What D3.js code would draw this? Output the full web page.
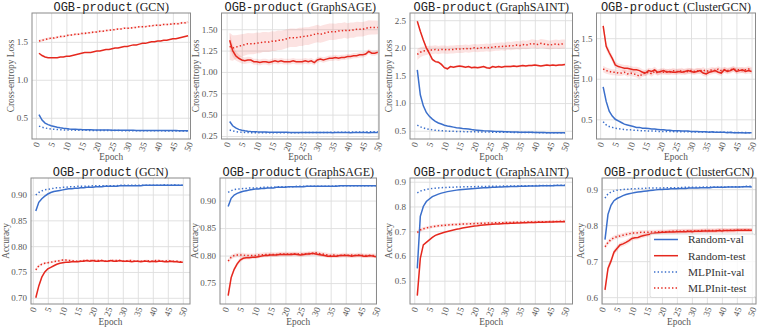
<!DOCTYPE html>
<html>
<head>
<meta charset="utf-8">
<script src="https://cdn.jsdelivr.net/npm/d3@7.9.0/dist/d3.min.js"></script>
<style>
  body { margin: 0; background: #fff; }
</style>
</head>
<body>
<svg id="chart" width="761" height="329"></svg>
<script>
// epochs on the x axis
const epochs = [
  1, 2, 3, 4, 5, 6, 7, 8, 9, 10,
  11, 12, 13, 14, 15, 16, 17, 18, 19, 20,
  21, 22, 23, 24, 25, 26, 27, 28, 29, 30,
  31, 32, 33, 34, 35, 36, 37, 38, 39, 40,
  41, 42, 43, 44, 45, 46, 47, 48, 49, 50];
const xTicks = [0, 5, 10, 15, 20, 25, 30, 35, 40, 45, 50];

const models = ['GCN', 'GraphSAGE', 'GraphSAINT', 'ClusterGCN'];
const seriesNames = ['Random-val', 'Random-test', 'MLPInit-val', 'MLPInit-test'];

// ---- loss curves (top row) ----
const gcnLossRandVal = [
  0.54, 0.47, 0.43, 0.41, 0.395, 0.385, 0.375, 0.368, 0.362, 0.357,
  0.353, 0.350, 0.348, 0.346, 0.344, 0.343, 0.342, 0.341, 0.340, 0.339,
  0.338, 0.338, 0.337, 0.337, 0.336, 0.336, 0.335, 0.335, 0.335, 0.334,
  0.334, 0.334, 0.333, 0.333, 0.333, 0.333, 0.332, 0.332, 0.332, 0.332,
  0.332, 0.331, 0.331, 0.331, 0.331, 0.331, 0.330, 0.330, 0.330, 0.330];
const gcnLossRandTest = [
  1.35, 1.32, 1.30, 1.29, 1.29, 1.29, 1.29, 1.30, 1.30, 1.31,
  1.31, 1.32, 1.33, 1.34, 1.35, 1.36, 1.36, 1.36, 1.37, 1.38,
  1.38, 1.39, 1.40, 1.40, 1.41, 1.42, 1.42, 1.43, 1.44, 1.44,
  1.45, 1.46, 1.46, 1.47, 1.48, 1.48, 1.49, 1.50, 1.50, 1.51,
  1.51, 1.52, 1.52, 1.53, 1.54, 1.54, 1.55, 1.56, 1.57, 1.58];
const gcnLossMlpVal = [
  0.390, 0.375, 0.365, 0.358, 0.352, 0.348, 0.345, 0.342, 0.340, 0.339,
  0.338, 0.337, 0.336, 0.335, 0.335, 0.334, 0.334, 0.333, 0.333, 0.333,
  0.332, 0.332, 0.332, 0.331, 0.331, 0.331, 0.331, 0.330, 0.330, 0.330,
  0.330, 0.329, 0.329, 0.329, 0.329, 0.329, 0.328, 0.328, 0.328, 0.328,
  0.328, 0.327, 0.327, 0.327, 0.327, 0.327, 0.326, 0.326, 0.326, 0.326];
const gcnLossMlpTest = [
  1.51, 1.52, 1.53, 1.54, 1.55, 1.55, 1.56, 1.57, 1.57, 1.58,
  1.59, 1.59, 1.60, 1.60, 1.61, 1.61, 1.62, 1.62, 1.63, 1.63,
  1.64, 1.64, 1.65, 1.65, 1.66, 1.66, 1.67, 1.67, 1.68, 1.68,
  1.68, 1.69, 1.69, 1.70, 1.70, 1.70, 1.71, 1.71, 1.72, 1.72,
  1.72, 1.73, 1.73, 1.73, 1.74, 1.74, 1.74, 1.75, 1.75, 1.76];
const gcnLossMlpTestStd = [
  0.020, 0.018, 0.017, 0.016, 0.016, 0.015, 0.015, 0.015, 0.014, 0.014,
  0.014, 0.014, 0.013, 0.013, 0.013, 0.013, 0.013, 0.013, 0.012, 0.012,
  0.012, 0.012, 0.012, 0.012, 0.012, 0.012, 0.012, 0.012, 0.012, 0.012,
  0.012, 0.012, 0.012, 0.012, 0.012, 0.012, 0.013, 0.013, 0.013, 0.013,
  0.013, 0.013, 0.013, 0.013, 0.014, 0.014, 0.014, 0.014, 0.014, 0.014];

const sageLossRandVal = [
  0.420, 0.370, 0.345, 0.328, 0.318, 0.311, 0.306, 0.303, 0.301, 0.299,
  0.298, 0.297, 0.296, 0.295, 0.295, 0.294, 0.294, 0.293, 0.293, 0.293,
  0.292, 0.292, 0.292, 0.292, 0.291, 0.291, 0.291, 0.291, 0.291, 0.290,
  0.290, 0.291, 0.290, 0.290, 0.289, 0.290, 0.290, 0.291, 0.290, 0.290,
  0.289, 0.290, 0.290, 0.290, 0.291, 0.290, 0.289, 0.290, 0.290, 0.290];
const sageLossRandTest = [
  1.37, 1.25, 1.19, 1.16, 1.14, 1.13, 1.14, 1.14, 1.12, 1.12,
  1.11, 1.12, 1.12, 1.11, 1.12, 1.13, 1.12, 1.13, 1.12, 1.12,
  1.12, 1.13, 1.12, 1.12, 1.12, 1.13, 1.12, 1.13, 1.11, 1.14,
  1.15, 1.14, 1.15, 1.16, 1.16, 1.17, 1.16, 1.17, 1.17, 1.18,
  1.18, 1.19, 1.19, 1.20, 1.20, 1.21, 1.24, 1.22, 1.22, 1.23];
const sageLossRandTestStd = [
  0.090, 0.070, 0.055, 0.045, 0.040, 0.038, 0.037, 0.036, 0.035, 0.035,
  0.035, 0.034, 0.034, 0.034, 0.034, 0.034, 0.033, 0.033, 0.033, 0.033,
  0.033, 0.033, 0.033, 0.033, 0.033, 0.033, 0.033, 0.033, 0.032, 0.032,
  0.032, 0.032, 0.032, 0.032, 0.032, 0.032, 0.032, 0.031, 0.031, 0.031,
  0.031, 0.031, 0.031, 0.031, 0.031, 0.030, 0.030, 0.030, 0.030, 0.030];
const sageLossMlpVal = [
  0.320, 0.310, 0.302, 0.297, 0.294, 0.292, 0.290, 0.289, 0.288, 0.288,
  0.287, 0.287, 0.287, 0.287, 0.287, 0.287, 0.287, 0.288, 0.288, 0.288,
  0.288, 0.289, 0.289, 0.289, 0.290, 0.290, 0.290, 0.291, 0.291, 0.291,
  0.292, 0.292, 0.292, 0.293, 0.293, 0.294, 0.294, 0.295, 0.295, 0.295,
  0.296, 0.296, 0.297, 0.297, 0.298, 0.298, 0.299, 0.299, 0.300, 0.300];
const sageLossMlpTest = [
  1.30, 1.28, 1.29, 1.30, 1.31, 1.32, 1.33, 1.33, 1.33, 1.34,
  1.34, 1.35, 1.35, 1.35, 1.36, 1.36, 1.37, 1.37, 1.38, 1.39,
  1.40, 1.40, 1.40, 1.41, 1.41, 1.42, 1.42, 1.43, 1.44, 1.45,
  1.44, 1.45, 1.46, 1.47, 1.47, 1.47, 1.48, 1.48, 1.49, 1.48,
  1.49, 1.49, 1.50, 1.50, 1.50, 1.51, 1.52, 1.52, 1.52, 1.52];
const sageLossMlpTestStd = [
  0.160, 0.150, 0.141, 0.134, 0.131, 0.128, 0.125, 0.124, 0.122, 0.121,
  0.120, 0.118, 0.118, 0.116, 0.116, 0.114, 0.114, 0.112, 0.111, 0.111,
  0.109, 0.109, 0.107, 0.106, 0.106, 0.104, 0.104, 0.102, 0.101, 0.101,
  0.099, 0.099, 0.097, 0.096, 0.096, 0.094, 0.094, 0.092, 0.091, 0.091,
  0.089, 0.089, 0.087, 0.086, 0.086, 0.084, 0.084, 0.082, 0.081, 0.080];

const saintLossRandVal = [
  1.60, 1.15, 0.95, 0.83, 0.76, 0.71, 0.67, 0.64, 0.62, 0.60,
  0.585, 0.575, 0.565, 0.555, 0.55, 0.54, 0.535, 0.53, 0.52, 0.515,
  0.510, 0.505, 0.500, 0.497, 0.494, 0.491, 0.488, 0.486, 0.484, 0.482,
  0.480, 0.478, 0.477, 0.476, 0.474, 0.473, 0.472, 0.471, 0.470, 0.469,
  0.468, 0.467, 0.466, 0.465, 0.465, 0.464, 0.463, 0.463, 0.462, 0.462];
const saintLossRandTest = [
  2.48, 2.30, 2.14, 2.00, 1.90, 1.79, 1.75, 1.74, 1.70, 1.64,
  1.62, 1.66, 1.65, 1.66, 1.67, 1.66, 1.65, 1.66, 1.64, 1.65,
  1.64, 1.65, 1.66, 1.64, 1.63, 1.66, 1.65, 1.66, 1.65, 1.66,
  1.66, 1.66, 1.67, 1.66, 1.67, 1.68, 1.67, 1.68, 1.68, 1.69,
  1.68, 1.67, 1.68, 1.69, 1.68, 1.69, 1.68, 1.69, 1.69, 1.70];
const saintLossRandTestStd = [
  0.030, 0.028, 0.026, 0.025, 0.024, 0.023, 0.022, 0.022, 0.021, 0.021,
  0.021, 0.020, 0.020, 0.020, 0.020, 0.020, 0.020, 0.020, 0.020, 0.020,
  0.020, 0.020, 0.020, 0.020, 0.020, 0.020, 0.020, 0.020, 0.020, 0.020,
  0.020, 0.020, 0.020, 0.020, 0.020, 0.020, 0.020, 0.020, 0.020, 0.020,
  0.020, 0.020, 0.020, 0.020, 0.020, 0.020, 0.020, 0.020, 0.020, 0.020];
const saintLossMlpVal = [
  0.600, 0.570, 0.550, 0.535, 0.525, 0.515, 0.508, 0.503, 0.499, 0.496,
  0.493, 0.491, 0.489, 0.487, 0.485, 0.484, 0.483, 0.482, 0.481, 0.480,
  0.479, 0.478, 0.477, 0.476, 0.475, 0.474, 0.473, 0.473, 0.472, 0.471,
  0.471, 0.470, 0.469, 0.469, 0.468, 0.468, 0.467, 0.467, 0.466, 0.466,
  0.465, 0.465, 0.464, 0.464, 0.463, 0.463, 0.462, 0.462, 0.461, 0.461];
const saintLossMlpTest = [
  1.88, 1.92, 1.94, 1.95, 1.96, 1.96, 1.97, 1.96, 1.97, 1.97,
  1.96, 1.97, 1.97, 1.98, 1.98, 1.98, 1.99, 1.98, 1.99, 2.00,
  1.99, 2.00, 2.00, 2.01, 2.00, 2.01, 2.02, 2.02, 2.03, 2.02,
  2.04, 2.03, 2.04, 2.05, 2.04, 2.06, 2.05, 2.06, 2.08, 2.07,
  2.06, 2.08, 2.07, 2.06, 2.05, 2.06, 2.07, 2.06, 2.07, 2.07];
const saintLossMlpTestStd = [
  0.100, 0.090, 0.085, 0.080, 0.078, 0.076, 0.075, 0.075, 0.074, 0.074,
  0.073, 0.073, 0.073, 0.072, 0.072, 0.072, 0.072, 0.071, 0.071, 0.071,
  0.071, 0.071, 0.070, 0.070, 0.070, 0.071, 0.071, 0.072, 0.072, 0.073,
  0.073, 0.074, 0.074, 0.075, 0.075, 0.076, 0.076, 0.077, 0.077, 0.078,
  0.078, 0.079, 0.079, 0.080, 0.080, 0.080, 0.081, 0.081, 0.081, 0.082];

const clusterLossRandVal = [
  0.90, 0.72, 0.60, 0.54, 0.50, 0.48, 0.46, 0.44, 0.43, 0.42,
  0.41, 0.40, 0.40, 0.39, 0.39, 0.385, 0.38, 0.38, 0.375, 0.37,
  0.37, 0.365, 0.365, 0.36, 0.36, 0.36, 0.355, 0.355, 0.355, 0.35,
  0.35, 0.35, 0.345, 0.345, 0.345, 0.34, 0.345, 0.34, 0.34, 0.34,
  0.34, 0.335, 0.34, 0.335, 0.335, 0.335, 0.335, 0.33, 0.335, 0.335];
const clusterLossRandTest = [
  1.65, 1.40, 1.32, 1.25, 1.17, 1.15, 1.14, 1.13, 1.13, 1.12,
  1.11, 1.11, 1.10, 1.08, 1.07, 1.10, 1.09, 1.11, 1.08, 1.09,
  1.10, 1.08, 1.09, 1.08, 1.08, 1.09, 1.08, 1.09, 1.10, 1.09,
  1.08, 1.09, 1.10, 1.07, 1.06, 1.08, 1.09, 1.10, 1.08, 1.07,
  1.11, 1.09, 1.10, 1.12, 1.09, 1.10, 1.11, 1.09, 1.10, 1.09];
const clusterLossRandTestStd = [
  0.050, 0.045, 0.042, 0.040, 0.040, 0.039, 0.039, 0.038, 0.038, 0.038,
  0.037, 0.037, 0.037, 0.037, 0.036, 0.036, 0.036, 0.036, 0.036, 0.036,
  0.035, 0.035, 0.035, 0.035, 0.035, 0.035, 0.035, 0.035, 0.035, 0.035,
  0.035, 0.035, 0.035, 0.035, 0.035, 0.035, 0.035, 0.035, 0.035, 0.035,
  0.035, 0.035, 0.035, 0.035, 0.035, 0.035, 0.035, 0.035, 0.035, 0.035];
const clusterLossMlpVal = [
  0.47, 0.43, 0.41, 0.40, 0.39, 0.385, 0.38, 0.375, 0.37, 0.37,
  0.365, 0.365, 0.36, 0.36, 0.36, 0.355, 0.355, 0.355, 0.35, 0.35,
  0.350, 0.350, 0.348, 0.348, 0.347, 0.347, 0.346, 0.346, 0.345, 0.345,
  0.344, 0.344, 0.343, 0.343, 0.342, 0.342, 0.341, 0.341, 0.340, 0.340,
  0.339, 0.339, 0.338, 0.338, 0.337, 0.337, 0.336, 0.336, 0.335, 0.335];
const clusterLossMlpTest = [
  1.12, 1.10, 1.09, 1.08, 1.08, 1.07, 1.07, 1.08, 1.06, 1.07,
  1.06, 1.05, 1.03, 1.06, 1.07, 1.08, 1.06, 1.09, 1.07, 1.09,
  1.08, 1.09, 1.08, 1.10, 1.09, 1.09, 1.10, 1.08, 1.09, 1.10,
  1.09, 1.10, 1.09, 1.11, 1.09, 1.10, 1.11, 1.10, 1.12, 1.10,
  1.11, 1.10, 1.11, 1.12, 1.11, 1.11, 1.10, 1.11, 1.12, 1.11];
const clusterLossMlpTestStd = [
  0.040, 0.038, 0.037, 0.036, 0.036, 0.035, 0.035, 0.035, 0.035, 0.035,
  0.035, 0.036, 0.038, 0.036, 0.035, 0.035, 0.035, 0.035, 0.034, 0.034,
  0.034, 0.034, 0.034, 0.034, 0.034, 0.034, 0.034, 0.034, 0.034, 0.034,
  0.034, 0.034, 0.034, 0.034, 0.034, 0.034, 0.034, 0.034, 0.034, 0.034,
  0.034, 0.034, 0.034, 0.034, 0.034, 0.034, 0.034, 0.034, 0.034, 0.034];

// ---- accuracy curves (bottom row) ----
const gcnAccRandVal = [
  0.868, 0.885, 0.892, 0.897, 0.901, 0.904, 0.906, 0.907, 0.908, 0.909,
  0.910, 0.911, 0.911, 0.912, 0.912, 0.913, 0.913, 0.914, 0.914, 0.914,
  0.915, 0.915, 0.915, 0.916, 0.916, 0.916, 0.916, 0.916, 0.917, 0.917,
  0.917, 0.917, 0.917, 0.917, 0.917, 0.917, 0.918, 0.918, 0.918, 0.918,
  0.918, 0.918, 0.918, 0.918, 0.918, 0.918, 0.918, 0.918, 0.918, 0.918];
const gcnAccRandTest = [
  0.700, 0.723, 0.740, 0.750, 0.756, 0.759, 0.762, 0.765, 0.767, 0.768,
  0.769, 0.769, 0.770, 0.770, 0.770, 0.771, 0.771, 0.772, 0.771, 0.772,
  0.771, 0.771, 0.772, 0.771, 0.771, 0.772, 0.771, 0.771, 0.772, 0.771,
  0.771, 0.771, 0.770, 0.771, 0.771, 0.770, 0.771, 0.771, 0.770, 0.771,
  0.770, 0.771, 0.771, 0.770, 0.770, 0.771, 0.770, 0.770, 0.769, 0.769];
const gcnAccMlpVal = [
  0.899, 0.904, 0.907, 0.909, 0.910, 0.911, 0.912, 0.913, 0.913, 0.914,
  0.914, 0.915, 0.915, 0.915, 0.916, 0.916, 0.916, 0.916, 0.916, 0.917,
  0.917, 0.917, 0.917, 0.917, 0.917, 0.917, 0.917, 0.917, 0.918, 0.918,
  0.918, 0.918, 0.918, 0.918, 0.918, 0.918, 0.918, 0.918, 0.918, 0.918,
  0.918, 0.918, 0.918, 0.919, 0.918, 0.918, 0.919, 0.918, 0.918, 0.918];
const gcnAccMlpTest = [
  0.754, 0.762, 0.765, 0.767, 0.768, 0.769, 0.770, 0.771, 0.772, 0.773,
  0.773, 0.772, 0.772, 0.771, 0.771, 0.771, 0.772, 0.772, 0.772, 0.772,
  0.772, 0.772, 0.772, 0.771, 0.771, 0.772, 0.772, 0.772, 0.772, 0.771,
  0.771, 0.772, 0.772, 0.771, 0.771, 0.771, 0.771, 0.772, 0.771, 0.771,
  0.772, 0.772, 0.771, 0.771, 0.772, 0.771, 0.771, 0.771, 0.770, 0.770];
const gcnAccMlpTestStd = [
  0.003, 0.003, 0.002, 0.002, 0.002, 0.002, 0.002, 0.002, 0.002, 0.002,
  0.002, 0.002, 0.002, 0.002, 0.002, 0.002, 0.002, 0.002, 0.002, 0.002,
  0.002, 0.002, 0.002, 0.002, 0.002, 0.002, 0.002, 0.002, 0.002, 0.002,
  0.002, 0.002, 0.002, 0.002, 0.002, 0.002, 0.002, 0.002, 0.002, 0.002,
  0.002, 0.002, 0.002, 0.002, 0.002, 0.002, 0.002, 0.002, 0.002, 0.002];

const sageAccRandVal = [
  0.889, 0.904, 0.910, 0.913, 0.915, 0.917, 0.918, 0.919, 0.920, 0.921,
  0.921, 0.922, 0.922, 0.923, 0.923, 0.923, 0.924, 0.924, 0.924, 0.924,
  0.925, 0.925, 0.925, 0.925, 0.925, 0.925, 0.926, 0.926, 0.926, 0.926,
  0.926, 0.926, 0.926, 0.926, 0.926, 0.926, 0.926, 0.927, 0.927, 0.927,
  0.927, 0.927, 0.927, 0.927, 0.927, 0.927, 0.927, 0.927, 0.927, 0.927];
const sageAccRandTest = [
  0.727, 0.760, 0.775, 0.785, 0.792, 0.795, 0.796, 0.796, 0.797, 0.797,
  0.798, 0.799, 0.800, 0.800, 0.801, 0.801, 0.801, 0.802, 0.802, 0.802,
  0.802, 0.802, 0.803, 0.802, 0.801, 0.802, 0.803, 0.803, 0.804, 0.803,
  0.802, 0.801, 0.800, 0.799, 0.799, 0.799, 0.799, 0.800, 0.800, 0.800,
  0.800, 0.799, 0.800, 0.800, 0.800, 0.799, 0.799, 0.800, 0.799, 0.798];
const sageAccRandTestStd = [
  0.006, 0.005, 0.004, 0.004, 0.004, 0.003, 0.003, 0.003, 0.003, 0.003,
  0.003, 0.003, 0.003, 0.003, 0.003, 0.003, 0.003, 0.003, 0.003, 0.003,
  0.003, 0.003, 0.003, 0.003, 0.003, 0.003, 0.003, 0.003, 0.003, 0.003,
  0.003, 0.003, 0.003, 0.003, 0.003, 0.003, 0.003, 0.003, 0.003, 0.003,
  0.003, 0.003, 0.003, 0.003, 0.003, 0.003, 0.003, 0.003, 0.003, 0.003];
const sageAccMlpVal = [
  0.915, 0.918, 0.920, 0.921, 0.921, 0.922, 0.922, 0.923, 0.923, 0.923,
  0.923, 0.924, 0.924, 0.924, 0.924, 0.924, 0.925, 0.925, 0.925, 0.925,
  0.925, 0.925, 0.925, 0.926, 0.926, 0.926, 0.926, 0.926, 0.926, 0.926,
  0.926, 0.926, 0.926, 0.926, 0.926, 0.926, 0.927, 0.927, 0.927, 0.927,
  0.927, 0.927, 0.927, 0.927, 0.927, 0.927, 0.927, 0.927, 0.927, 0.927];
const sageAccMlpTest = [
  0.790, 0.797, 0.800, 0.801, 0.801, 0.801, 0.800, 0.800, 0.800, 0.800,
  0.801, 0.801, 0.802, 0.802, 0.802, 0.802, 0.802, 0.803, 0.803, 0.803,
  0.803, 0.803, 0.803, 0.803, 0.803, 0.803, 0.803, 0.804, 0.804, 0.805,
  0.804, 0.803, 0.802, 0.801, 0.800, 0.801, 0.800, 0.800, 0.801, 0.801,
  0.800, 0.801, 0.800, 0.801, 0.801, 0.800, 0.800, 0.800, 0.800, 0.800];
const sageAccMlpTestStd = [
  0.004, 0.004, 0.004, 0.004, 0.004, 0.004, 0.004, 0.004, 0.004, 0.004,
  0.004, 0.004, 0.004, 0.004, 0.004, 0.004, 0.004, 0.004, 0.004, 0.004,
  0.004, 0.004, 0.004, 0.004, 0.004, 0.004, 0.004, 0.004, 0.004, 0.004,
  0.004, 0.004, 0.004, 0.004, 0.004, 0.004, 0.004, 0.004, 0.004, 0.004,
  0.004, 0.004, 0.004, 0.004, 0.004, 0.004, 0.004, 0.004, 0.004, 0.004];

const saintAccRandVal = [
  0.550, 0.760, 0.800, 0.820, 0.830, 0.840, 0.845, 0.850, 0.854, 0.857,
  0.860, 0.862, 0.864, 0.866, 0.868, 0.869, 0.870, 0.871, 0.872, 0.873,
  0.874, 0.875, 0.876, 0.876, 0.877, 0.878, 0.878, 0.879, 0.879, 0.880,
  0.880, 0.881, 0.881, 0.881, 0.882, 0.882, 0.882, 0.883, 0.883, 0.883,
  0.883, 0.884, 0.884, 0.884, 0.884, 0.884, 0.885, 0.885, 0.885, 0.885];
const saintAccRandTest = [
  0.440, 0.590, 0.645, 0.655, 0.665, 0.675, 0.683, 0.688, 0.692, 0.696,
  0.699, 0.702, 0.705, 0.708, 0.710, 0.713, 0.715, 0.717, 0.719, 0.721,
  0.722, 0.724, 0.725, 0.726, 0.727, 0.728, 0.729, 0.729, 0.730, 0.731,
  0.731, 0.732, 0.732, 0.733, 0.733, 0.734, 0.734, 0.735, 0.735, 0.735,
  0.736, 0.736, 0.736, 0.737, 0.737, 0.737, 0.738, 0.738, 0.738, 0.738];
const saintAccMlpVal = [
  0.855, 0.862, 0.866, 0.869, 0.871, 0.873, 0.874, 0.875, 0.876, 0.877,
  0.877, 0.878, 0.878, 0.879, 0.879, 0.879, 0.880, 0.880, 0.880, 0.880,
  0.881, 0.881, 0.881, 0.881, 0.882, 0.882, 0.882, 0.882, 0.882, 0.883,
  0.883, 0.883, 0.883, 0.883, 0.884, 0.884, 0.884, 0.884, 0.884, 0.884,
  0.885, 0.885, 0.885, 0.885, 0.885, 0.885, 0.886, 0.886, 0.886, 0.886];
const saintAccMlpTest = [
  0.695, 0.705, 0.710, 0.713, 0.716, 0.718, 0.720, 0.722, 0.723, 0.724,
  0.725, 0.726, 0.727, 0.727, 0.728, 0.729, 0.729, 0.730, 0.730, 0.731,
  0.731, 0.732, 0.732, 0.733, 0.733, 0.733, 0.734, 0.734, 0.734, 0.735,
  0.735, 0.735, 0.736, 0.736, 0.736, 0.736, 0.737, 0.737, 0.737, 0.737,
  0.738, 0.738, 0.738, 0.738, 0.739, 0.739, 0.739, 0.740, 0.740, 0.740];
const saintAccMlpTestStd = [
  0.008, 0.007, 0.007, 0.006, 0.006, 0.006, 0.006, 0.006, 0.006, 0.006,
  0.006, 0.006, 0.006, 0.006, 0.006, 0.006, 0.006, 0.006, 0.006, 0.006,
  0.006, 0.006, 0.006, 0.006, 0.006, 0.006, 0.006, 0.006, 0.006, 0.006,
  0.006, 0.006, 0.006, 0.006, 0.006, 0.006, 0.006, 0.006, 0.006, 0.006,
  0.006, 0.006, 0.006, 0.006, 0.006, 0.006, 0.006, 0.006, 0.006, 0.006];

const clusterAccRandVal = [
  0.760, 0.830, 0.855, 0.868, 0.874, 0.878, 0.882, 0.885, 0.887, 0.889,
  0.891, 0.892, 0.893, 0.894, 0.895, 0.896, 0.897, 0.898, 0.899, 0.899,
  0.900, 0.900, 0.901, 0.901, 0.901, 0.902, 0.902, 0.902, 0.903, 0.903,
  0.903, 0.903, 0.904, 0.904, 0.904, 0.904, 0.905, 0.905, 0.905, 0.905,
  0.905, 0.906, 0.906, 0.906, 0.906, 0.906, 0.907, 0.907, 0.907, 0.906];
const clusterAccRandTest = [
  0.620, 0.680, 0.700, 0.725, 0.735, 0.745, 0.748, 0.752, 0.757, 0.763,
  0.765, 0.766, 0.769, 0.771, 0.773, 0.775, 0.777, 0.778, 0.779, 0.780,
  0.780, 0.781, 0.781, 0.781, 0.782, 0.782, 0.782, 0.782, 0.783, 0.782,
  0.783, 0.783, 0.783, 0.784, 0.784, 0.784, 0.784, 0.784, 0.785, 0.784,
  0.785, 0.785, 0.785, 0.785, 0.786, 0.786, 0.786, 0.786, 0.786, 0.786];
const clusterAccRandTestStd = [
  0.012, 0.010, 0.009, 0.008, 0.008, 0.007, 0.007, 0.007, 0.007, 0.006,
  0.006, 0.006, 0.006, 0.006, 0.006, 0.006, 0.006, 0.006, 0.006, 0.006,
  0.006, 0.006, 0.006, 0.006, 0.006, 0.006, 0.006, 0.006, 0.006, 0.006,
  0.006, 0.006, 0.006, 0.006, 0.006, 0.006, 0.006, 0.006, 0.006, 0.006,
  0.006, 0.006, 0.006, 0.006, 0.006, 0.006, 0.006, 0.006, 0.006, 0.006];
const clusterAccMlpVal = [
  0.875, 0.887, 0.892, 0.895, 0.897, 0.898, 0.899, 0.900, 0.900, 0.901,
  0.901, 0.902, 0.902, 0.902, 0.903, 0.903, 0.903, 0.903, 0.903, 0.903,
  0.904, 0.904, 0.904, 0.904, 0.904, 0.904, 0.905, 0.905, 0.905, 0.905,
  0.905, 0.905, 0.905, 0.906, 0.906, 0.906, 0.906, 0.906, 0.906, 0.906,
  0.906, 0.907, 0.907, 0.907, 0.907, 0.907, 0.907, 0.908, 0.908, 0.908];
const clusterAccMlpTest = [
  0.740, 0.752, 0.760, 0.765, 0.768, 0.770, 0.772, 0.774, 0.776, 0.778,
  0.778, 0.779, 0.780, 0.780, 0.780, 0.781, 0.781, 0.781, 0.782, 0.782,
  0.782, 0.782, 0.783, 0.783, 0.783, 0.783, 0.784, 0.784, 0.784, 0.784,
  0.784, 0.784, 0.785, 0.785, 0.785, 0.785, 0.785, 0.785, 0.786, 0.786,
  0.786, 0.785, 0.786, 0.786, 0.786, 0.786, 0.786, 0.787, 0.786, 0.786];
const clusterAccMlpTestStd = [
  0.007, 0.007, 0.006, 0.006, 0.006, 0.006, 0.006, 0.006, 0.006, 0.006,
  0.006, 0.006, 0.006, 0.006, 0.006, 0.006, 0.006, 0.006, 0.006, 0.006,
  0.006, 0.006, 0.006, 0.006, 0.006, 0.006, 0.006, 0.006, 0.006, 0.006,
  0.006, 0.006, 0.006, 0.006, 0.006, 0.006, 0.006, 0.006, 0.006, 0.006,
  0.006, 0.006, 0.006, 0.006, 0.006, 0.006, 0.006, 0.006, 0.006, 0.006];

// y tick labels per panel
const gcnLossTicks = [0.5, 1.0, 1.5];
const sageLossTicks = [0.25, 0.50, 0.75, 1.00, 1.25, 1.50];
const saintLossTicks = [0.5, 1.0, 1.5, 2.0, 2.5];
const clusterLossTicks = [0.5, 1.0, 1.5];
const gcnAccTicks = [0.70, 0.75, 0.80, 0.85, 0.90];
const sageAccTicks = [0.75, 0.80, 0.85, 0.90];
const saintAccTicks = [0.5, 0.6, 0.7, 0.8, 0.9];
const clusterAccTicks = [0.6, 0.7, 0.8, 0.9];

const blue = '#3b6fcb';
const red = '#e5281e';
const serif = '"Liberation Serif", "DejaVu Serif", serif';
const mono = '"Liberation Mono", "DejaVu Sans Mono", monospace';

const panels = [
  { model: 0, ylabel: 'Cross-entropy Loss', rect: [32, 13, 190.5, 139], xDom: [-1.3, 50.8], yDom: [0.22, 1.88], ticks: gcnLossTicks, fmt: '.1f',
    s: [gcnLossRandVal, gcnLossRandTest, gcnLossMlpVal, gcnLossMlpTest], std: [null, null, null, gcnLossMlpTestStd] },
  { model: 1, ylabel: 'Cross-entropy Loss', rect: [221.5, 13, 379, 139], xDom: [-1.7, 50.4], yDom: [0.215, 1.69], ticks: sageLossTicks, fmt: '.2f',
    s: [sageLossRandVal, sageLossRandTest, sageLossMlpVal, sageLossMlpTest], std: [null, sageLossRandTestStd, null, sageLossMlpTestStd] },
  { model: 2, ylabel: 'Cross-entropy Loss', rect: [410, 13, 572.5, 139], xDom: [-1.42, 52.5], yDom: [0.35, 2.63], ticks: saintLossTicks, fmt: '.1f',
    s: [saintLossRandVal, saintLossRandTest, saintLossMlpVal, saintLossMlpTest], std: [null, saintLossRandTestStd, null, saintLossMlpTestStd] },
  { model: 3, ylabel: 'Cross-entropy Loss', rect: [596.5, 13, 755.5, 139], xDom: [-1.2, 51.3], yDom: [0.257, 1.81], ticks: clusterLossTicks, fmt: '.1f',
    s: [clusterLossRandVal, clusterLossRandTest, clusterLossMlpVal, clusterLossMlpTest], std: [null, clusterLossRandTestStd, null, clusterLossMlpTestStd] },
  { model: 0, ylabel: 'Accuracy', rect: [31, 178, 190, 304], xDom: [-0.6, 52.4], yDom: [0.688, 0.932], ticks: gcnAccTicks, fmt: '.2f',
    s: [gcnAccRandVal, gcnAccRandTest, gcnAccMlpVal, gcnAccMlpTest], std: [null, null, null, gcnAccMlpTestStd] },
  { model: 1, ylabel: 'Accuracy', rect: [220, 178, 376.5, 304], xDom: [-1.7, 50.2], yDom: [0.712, 0.941], ticks: sageAccTicks, fmt: '.2f',
    s: [sageAccRandVal, sageAccRandTest, sageAccMlpVal, sageAccMlpTest], std: [null, sageAccRandTestStd, null, sageAccMlpTestStd] },
  { model: 2, ylabel: 'Accuracy', rect: [410, 178, 572.5, 304], xDom: [-1.42, 52.5], yDom: [0.406, 0.915], ticks: saintAccTicks, fmt: '.1f',
    s: [saintAccRandVal, saintAccRandTest, saintAccMlpVal, saintAccMlpTest], std: [null, null, null, saintAccMlpTestStd] },
  { model: 3, ylabel: 'Accuracy', rect: [602, 178, 756, 304], xDom: [0.0, 51.4], yDom: [0.581, 0.931], ticks: clusterAccTicks, fmt: '.1f',
    s: [clusterAccRandVal, clusterAccRandTest, clusterAccMlpVal, clusterAccMlpTest], std: [null, clusterAccRandTestStd, null, clusterAccMlpTestStd] }
];

const seriesColor = [blue, red, blue, red];
const seriesDash = [null, null, '1.4,2.2', '1.4,2.2'];

const svg = d3.select('#chart');
const defs = svg.append('defs');
const tickFont = 9;
const rot = 70 * Math.PI / 180;

panels.forEach((p, pi) => {
  const [L, T, R, B] = p.rect;
  const x = d3.scaleLinear().domain(p.xDom).range([L, R]);
  const y = d3.scaleLinear().domain(p.yDom).range([B, T]);
  const g = svg.append('g');

  defs.append('clipPath').attr('id', 'clip' + pi)
    .append('rect').attr('x', L).attr('y', T).attr('width', R - L).attr('height', B - T);

  // grid lines
  g.append('g').attr('transform', `translate(0,${B})`)
    .call(d3.axisBottom(x).tickValues(xTicks).tickSize(-(B - T)).tickFormat(''))
    .call(a => a.select('.domain').remove())
    .call(a => a.selectAll('line').attr('stroke', '#dedede').attr('stroke-width', 0.9));
  g.append('g').attr('transform', `translate(${L},0)`)
    .call(d3.axisLeft(y).tickValues(p.ticks).tickSize(-(R - L)).tickFormat(''))
    .call(a => a.select('.domain').remove())
    .call(a => a.selectAll('line').attr('stroke', '#dedede').attr('stroke-width', 0.9));

  // tick labels
  const yAx = g.append('g').attr('transform', `translate(${L},0)`)
    .call(d3.axisLeft(y).tickValues(p.ticks).tickSize(0).tickPadding(4).tickFormat(d3.format(p.fmt)));
  yAx.attr('font-family', serif).attr('font-size', tickFont);
  yAx.select('.domain').remove();
  yAx.selectAll('text').attr('fill', '#555');

  const xAx = g.append('g').attr('transform', `translate(0,${B})`)
    .call(d3.axisBottom(x).tickValues(xTicks).tickSize(0).tickFormat(d3.format('d')));
  xAx.attr('font-family', serif).attr('font-size', tickFont);
  xAx.select('.domain').remove();
  xAx.selectAll('text')
    .attr('fill', '#555')
    .attr('y', null).attr('dy', null)
    .attr('text-anchor', 'middle').attr('dominant-baseline', 'central')
    .attr('transform', function () {
      const w = this.getComputedTextLength();
      const h = w * Math.sin(rot) + tickFont * 0.72 * Math.cos(rot);
      return `translate(0,${2.5 + h / 2}) rotate(-70)`;
    });

  // bands then lines
  const plot = g.append('g').attr('clip-path', `url(#clip${pi})`);
  p.s.forEach((vals, si) => {
    const sd = p.std[si];
    if (!sd) return;
    const area = d3.area()
      .x((d, i) => x(epochs[i]))
      .y0((d, i) => y(vals[i] - sd[i]))
      .y1((d, i) => y(vals[i] + sd[i]));
    plot.append('path').attr('d', area(vals))
      .attr('fill', seriesColor[si]).attr('fill-opacity', 0.13).attr('stroke', 'none');
  });
  p.s.forEach((vals, si) => {
    const line = d3.line().x((d, i) => x(epochs[i])).y(d => y(d));
    plot.append('path').attr('d', line(vals))
      .attr('fill', 'none').attr('stroke', seriesColor[si])
      .attr('stroke-width', 1.5)
      .attr('stroke-dasharray', seriesDash[si]);
  });

  // frame
  g.append('rect').attr('x', L).attr('y', T).attr('width', R - L).attr('height', B - T)
    .attr('fill', 'none').attr('stroke', '#8a8a8a').attr('stroke-width', 1);

  // title
  const title = g.append('text').attr('x', (L + R) / 2).attr('y', T - 2)
    .attr('text-anchor', 'middle').attr('fill', '#222').attr('font-family', serif);
  title.append('tspan').attr('font-family', mono)
    .attr('font-size', 12).text('OGB-product');
  title.append('tspan').attr('font-size', 12).text(` (${models[p.model]})`);

  // axis labels
  const yLabelsBox = yAx.node().getBBox();
  const ylx = yLabelsBox.x + L - 2.5;
  g.append('text').attr('transform', `translate(${ylx},${(T + B) / 2}) rotate(-90)`)
    .attr('text-anchor', 'middle').attr('font-family', serif).attr('font-size', 9.3).attr('fill', '#555')
    .text(p.ylabel);
  g.append('text').attr('x', (L + R) / 2).attr('y', B + 21)
    .attr('text-anchor', 'middle').attr('font-family', serif).attr('font-size', 9.3).attr('fill', '#555')
    .text('Epoch');
});

// legend in the last panel
const leg = svg.append('g');
leg.append('rect').attr('x', 650).attr('y', 234).attr('width', 105.5).attr('height', 63.5)
  .attr('rx', 2).attr('fill', '#fff').attr('fill-opacity', 0.8)
  .attr('stroke', '#d4d4d4').attr('stroke-width', 0.8);
seriesNames.forEach((name, i) => {
  const ly = 239.5 + i * 16.2;
  leg.append('line').attr('x1', 654).attr('x2', 678).attr('y1', ly).attr('y2', ly)
    .attr('stroke', seriesColor[i]).attr('stroke-width', 1.5)
    .attr('stroke-dasharray', seriesDash[i]);
  leg.append('text').attr('x', 688).attr('y', ly).attr('dy', '0.35em')
    .attr('font-family', serif).attr('font-size', 11.3).attr('fill', '#333').text(name);
});
</script>
</body>
</html>
